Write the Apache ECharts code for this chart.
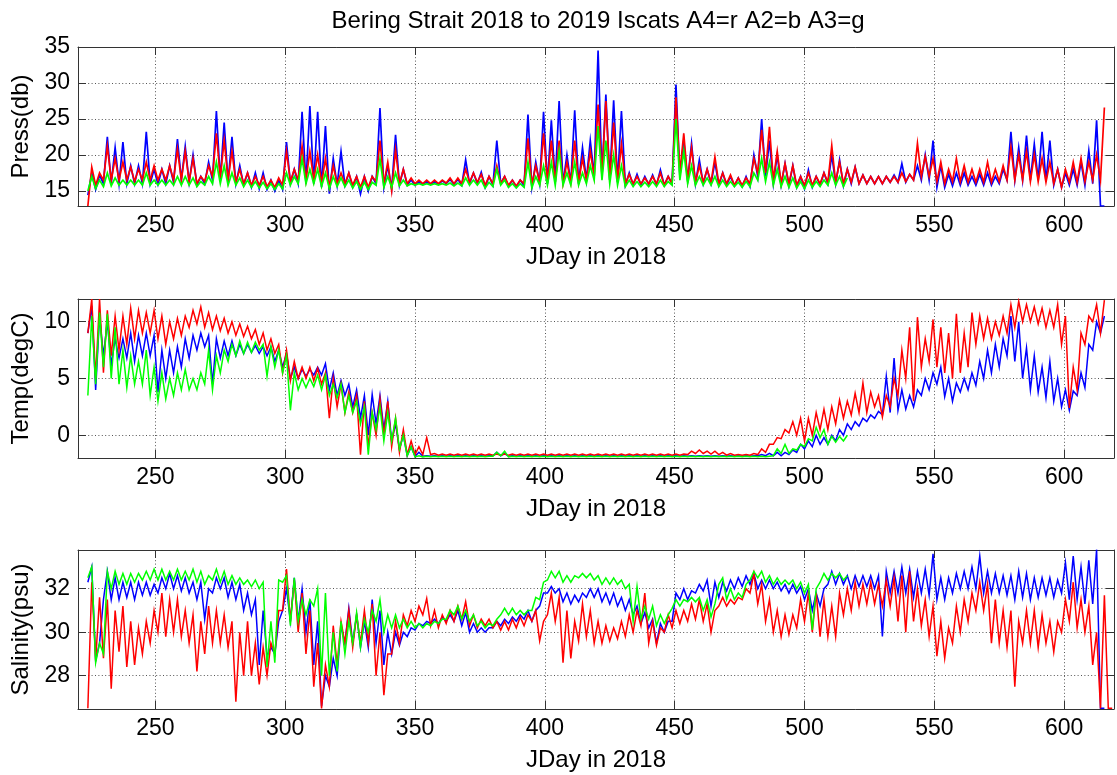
<!DOCTYPE html>
<html>
<head>
<meta charset="utf-8">
<title>Bering Strait 2018 to 2019 Iscats</title>
<script src="https://cdn.jsdelivr.net/npm/echarts@6/dist/echarts.min.js"></script>
<style>
    html, body { margin: 0; padding: 0; background: #fff; }
    #chart { width: 1117px; height: 775px; }
</style>
</head>
<body>
<div id="chart"></div>
<script>
// window start day (3 day windows), each window has a low and a high value
var days = [
    224, 227, 230, 233, 236, 239, 242, 245, 248, 251,
    254, 257, 260, 263, 266, 269, 272, 275, 278, 281,
    284, 287, 290, 293, 296, 299, 302, 305, 308, 311,
    314, 317, 320, 323, 326, 329, 332, 335, 338, 341,
    344, 347, 350, 353, 356, 359, 362, 365, 368, 371,
    374, 377, 380, 383, 386, 389, 392, 395, 398, 401,
    404, 407, 410, 413, 416, 419, 422, 425, 428, 431,
    434, 437, 440, 443, 446, 449, 452, 455, 458, 461,
    464, 467, 470, 473, 476, 479, 482, 485, 488, 491,
    494, 497, 500, 503, 506, 509, 512, 515, 518, 521,
    524, 527, 530, 533, 536, 539, 542, 545, 548, 551,
    554, 557, 560, 563, 566, 569, 572, 575, 578, 581,
    584, 587, 590, 593, 596, 599, 602, 605, 608, 611,
    614, 617
];

// ---- pressure (db) ----
var pressA2Lo = [
    14.4, 15.2, 16.0, 16.0, 16.0, 16.0, 16.0, 16.0, 16.0, 15.9,
    16.0, 16.2, 16.5, 16.2, 15.8, 16.0, 16.5, 16.5, 16.2, 16.0,
    15.8, 15.5, 15.3, 15.2, 15.0, 15.2, 16.0, 16.0, 16.0, 16.0,
    15.5, 14.6, 15.8, 15.8, 15.5, 14.6, 15.0, 16.0, 15.5, 15.3,
    15.8, 15.8, 15.8, 15.9, 15.9, 15.9, 16.0, 15.9, 15.8, 16.0,
    16.0, 15.5, 15.8, 16.0, 15.6, 15.5, 15.7, 15.5, 16.0, 16.0,
    16.2, 16.0, 16.0, 16.0, 16.5, 17.0, 17.0, 16.5, 16.2, 15.8,
    15.8, 15.8, 15.9, 15.8, 15.8, 16.0, 17.0, 16.5, 16.0, 16.0,
    16.0, 15.8, 15.8, 15.7, 15.6, 15.6, 17.0, 17.0, 16.0, 15.8,
    15.7, 15.5, 15.3, 15.5, 15.8, 16.0, 16.0, 15.7, 16.0, 16.0,
    16.0, 16.0, 16.0, 16.2, 16.2, 16.2, 16.5, 16.5, 16.5, 15.5,
    15.5, 15.7, 15.8, 15.8, 15.8, 15.8, 15.8, 16.0, 16.5, 16.5,
    16.5, 16.5, 16.5, 16.3, 15.8, 15.5, 15.8, 15.8, 15.8, 16.0,
    12.9
];
var pressA2Hi = [
    17.5, 17.2, 22.5, 21.0, 21.8, 18.5, 18.5, 23.2, 18.0, 18.0,
    18.5, 22.2, 21.2, 20.0, 17.0, 19.0, 26.1, 24.5, 22.5, 18.5,
    17.5, 17.5, 17.5, 16.5, 16.5, 21.8, 18.0, 26.0, 26.8, 26.0,
    24.0, 19.5, 20.5, 17.5, 17.0, 17.0, 17.0, 26.5, 18.5, 22.8,
    18.0, 16.5, 16.3, 16.3, 16.3, 16.4, 16.6, 16.6, 19.3, 17.5,
    17.6, 17.0, 22.0, 17.0, 16.5, 16.5, 25.6, 19.0, 26.0, 24.8,
    27.5, 20.0, 26.2, 21.0, 22.0, 34.5, 28.4, 27.6, 26.1, 17.5,
    17.3, 17.0, 17.2, 17.9, 17.0, 29.8, 22.0, 21.6, 19.3, 18.0,
    19.0, 17.5, 17.0, 16.8, 17.0, 20.0, 25.0, 22.0, 20.0, 18.8,
    18.5, 17.0, 17.9, 17.0, 17.5, 20.0, 19.3, 18.0, 18.3, 17.2,
    17.0, 17.0, 17.0, 17.2, 18.8, 17.3, 18.5, 20.0, 22.0, 18.5,
    17.3, 17.5, 17.5, 17.0, 17.3, 17.5, 17.0, 18.0, 23.2, 21.0,
    22.7, 21.5, 23.2, 22.0, 18.0, 17.5, 18.0, 19.0, 20.6, 24.8,
    12.9
];
var pressA4Lo = [
    12.9, 15.8, 16.5, 16.5, 16.5, 16.5, 16.3, 16.5, 16.5, 16.5,
    16.5, 16.5, 16.5, 16.3, 16.0, 16.3, 17.0, 16.8, 16.5, 16.2,
    16.0, 15.8, 15.8, 15.6, 15.5, 15.8, 16.3, 16.5, 16.5, 16.5,
    16.0, 15.5, 16.0, 16.0, 15.8, 15.5, 15.5, 16.3, 16.0, 15.0,
    16.0, 16.0, 16.0, 16.0, 16.0, 16.0, 16.1, 16.0, 16.0, 16.2,
    16.2, 15.8, 16.0, 16.0, 15.8, 15.7, 16.0, 15.8, 16.2, 16.2,
    16.2, 16.0, 16.2, 16.2, 16.5, 17.0, 17.0, 16.5, 16.3, 16.0,
    16.0, 16.0, 16.0, 16.0, 15.8, 16.0, 17.5, 16.5, 16.2, 16.2,
    16.2, 16.0, 16.0, 15.8, 15.8, 16.0, 17.5, 17.5, 16.5, 16.0,
    16.0, 15.8, 15.8, 15.8, 16.0, 16.2, 16.2, 16.0, 16.2, 16.0,
    16.0, 16.0, 16.0, 16.2, 16.2, 16.3, 16.5, 17.0, 17.0, 16.3,
    16.0, 16.3, 16.3, 16.2, 16.2, 16.2, 16.2, 16.3, 16.5, 16.5,
    16.5, 16.3, 16.3, 16.2, 16.0, 15.5, 16.2, 16.2, 16.3, 16.5,
    16.5
];
var pressA4Hi = [
    18.3, 17.5, 21.2, 19.5, 19.0, 18.3, 18.0, 19.0, 18.5, 18.0,
    18.5, 20.8, 20.5, 19.5, 17.0, 18.5, 23.0, 22.0, 20.5, 18.0,
    17.5, 17.0, 17.0, 16.5, 16.8, 20.5, 18.0, 21.2, 20.5, 20.0,
    19.5, 18.5, 17.5, 17.5, 17.0, 17.0, 17.0, 22.0, 19.0, 20.7,
    18.0, 16.8, 16.5, 16.5, 16.5, 16.5, 16.8, 16.8, 18.0, 17.5,
    17.3, 17.0, 18.5, 17.0, 16.5, 16.5, 22.3, 18.5, 23.0, 22.0,
    22.0, 19.0, 22.0, 19.5, 20.5, 27.0, 27.5, 24.5, 21.5, 17.3,
    17.0, 16.8, 17.0, 17.5, 17.0, 28.0, 23.0, 21.0, 18.5, 18.0,
    19.7, 17.5, 17.2, 16.8, 16.8, 19.5, 23.5, 23.9, 20.5, 18.8,
    18.5, 17.0, 17.5, 17.0, 17.5, 21.3, 19.0, 18.0, 18.3, 17.2,
    17.0, 17.0, 17.0, 17.0, 17.5, 17.3, 21.6, 19.8, 19.5, 19.0,
    18.0, 19.5, 18.5, 18.0, 18.0, 19.0, 18.0, 18.5, 21.1, 20.0,
    20.5, 20.0, 19.5, 19.0, 18.0, 18.0, 19.0, 19.5, 19.0, 20.0,
    26.6
];
var pressA3Lo = [
    15.0, 15.3, 15.6, 15.7, 15.8, 15.8, 15.8, 15.8, 15.8, 15.8,
    15.8, 15.8, 15.8, 15.8, 15.6, 15.8, 16.0, 16.0, 15.8, 15.8,
    15.6, 15.5, 15.4, 15.3, 15.2, 15.3, 15.8, 16.0, 16.0, 16.0,
    15.6, 15.3, 15.6, 15.6, 15.4, 15.2, 15.2, 15.8, 15.5, 15.5,
    15.7, 15.7, 15.8, 15.8, 15.8, 15.8, 15.8, 15.7, 15.7, 15.8,
    15.8, 15.4, 15.6, 15.8, 15.5, 15.4, 15.5, 15.4, 15.8, 15.8,
    15.8, 15.8, 15.8, 15.8, 16.0, 16.5, 16.5, 16.0, 15.8, 15.6,
    15.6, 15.6, 15.6, 15.6, 15.6, 15.8, 16.5, 16.0, 15.8, 15.8,
    15.8, 15.6, 15.6, 15.6, 15.5, 15.6, 16.5, 16.3, 15.8, 15.6,
    15.5, 15.4, 15.3, 15.5, 15.6, 15.8, 15.8, 15.6
];
var pressA3Hi = [
    17.0, 16.5, 17.5, 16.8, 16.5, 16.5, 16.5, 17.5, 16.5, 16.5,
    16.5, 17.0, 17.0, 16.8, 16.3, 17.0, 19.0, 18.5, 17.5, 16.8,
    16.5, 16.3, 16.2, 16.0, 16.0, 17.5, 17.0, 19.5, 18.0, 18.0,
    17.5, 17.0, 16.8, 16.5, 16.3, 16.2, 16.2, 19.5, 17.0, 17.5,
    16.5, 16.0, 16.0, 16.0, 16.0, 16.0, 16.1, 16.1, 16.8, 16.5,
    16.5, 16.2, 18.0, 16.5, 16.0, 16.0, 19.0, 17.0, 18.5, 19.0,
    20.5, 17.5, 19.0, 17.5, 18.5, 24.0, 22.0, 20.0, 18.5, 16.5,
    16.3, 16.2, 16.3, 16.5, 16.3, 25.0, 20.5, 18.5, 17.0, 16.8,
    17.0, 16.5, 16.3, 16.2, 16.3, 17.5, 19.5, 19.0, 18.0, 17.0,
    16.8, 16.3, 16.5, 16.3, 16.5, 17.5, 17.0, 16.8
];

// ---- temperature (degC) ----
var tempA2Lo = [
    9.0, 4.0, 7.0, 6.2, 6.8, 6.8, 6.5, 7.0, 7.0, 3.8,
    5.0, 5.5, 6.0, 6.8, 7.5, 7.8, 4.5, 6.8, 7.0, 7.0,
    7.2, 7.3, 7.2, 7.0, 6.5, 6.0, 5.0, 5.0, 5.2, 5.3,
    5.3, 4.0, 3.5, 3.5, 2.5, 1.5, 0.0, 1.0, 0.5, -0.5,
    -1.2, -1.8, -1.85, -1.85, -1.85, -1.85, -1.85, -1.85, -1.85, -1.85,
    -1.85, -1.85, -1.8, -1.8, -1.85, -1.85, -1.85, -1.85, -1.85, -1.85,
    -1.85, -1.85, -1.85, -1.85, -1.85, -1.85, -1.85, -1.85, -1.85, -1.85,
    -1.85, -1.85, -1.85, -1.85, -1.85, -1.85, -1.85, -1.85, -1.85, -1.85,
    -1.85, -1.85, -1.85, -1.85, -1.85, -1.85, -1.8, -1.8, -1.8, -1.8,
    -1.7, -1.5, -1.2, -1.0, -0.8, -0.8, -0.5, 0.0, 0.5, 0.8,
    1.2, 1.5, 1.8, 2.0, 2.2, 2.3, 2.5, 3.5, 4.0, 4.5,
    3.4, 3.0, 3.8, 4.0, 4.4, 5.0, 5.5, 6.0, 7.0, 6.5,
    5.0, 4.0, 3.8, 3.3, 3.0, 2.5, 2.2, 3.5, 4.2, 7.5,
    9.0
];
var tempA2Hi = [
    11.4, 10.5, 10.0, 8.5, 8.5, 9.0, 8.8, 9.0, 8.8, 7.5,
    7.5, 7.8, 8.5, 8.8, 9.0, 8.8, 8.5, 8.3, 8.3, 8.0,
    8.0, 7.9, 7.8, 7.8, 7.5, 7.2, 6.0, 5.8, 5.8, 6.0,
    6.3, 5.5, 4.8, 4.5, 4.0, 3.5, 3.6, 3.5, 3.0, 1.0,
    0.0, -1.0, -1.5, -1.8, -1.8, -1.8, -1.8, -1.8, -1.8, -1.8,
    -1.8, -1.8, -1.5, -1.6, -1.8, -1.8, -1.8, -1.8, -1.8, -1.8,
    -1.8, -1.8, -1.8, -1.8, -1.8, -1.8, -1.8, -1.8, -1.8, -1.8,
    -1.8, -1.8, -1.8, -1.8, -1.8, -1.8, -1.8, -1.8, -1.8, -1.8,
    -1.8, -1.8, -1.8, -1.8, -1.8, -1.8, -1.7, -1.6, -1.5, -1.5,
    -1.3, -0.8, -0.5, 0.0, -0.2, 0.0, 0.5, 1.0, 1.2, 1.5,
    1.8, 2.1, 5.2, 6.8, 4.0, 3.5, 4.0, 5.0, 5.5, 6.0,
    5.0, 4.6, 5.0, 5.5, 6.5, 7.5, 8.0, 8.5, 10.5, 10.0,
    7.7, 7.0, 6.0, 6.5, 5.0, 4.0, 3.9, 5.5, 8.0, 10.0,
    10.5
];
var tempA4Lo = [
    9.0, 5.0, 5.5, 7.0, 7.5, 8.0, 8.5, 9.0, 9.0, 8.5,
    8.0, 8.5, 8.8, 9.5, 9.8, 9.5, 9.3, 9.2, 9.0, 8.8,
    8.7, 8.5, 8.0, 7.5, 7.2, 5.5, 4.8, 5.0, 5.0, 4.8,
    4.5, 1.5, 2.5, 2.0, 2.0, -1.7, -1.0, 0.0, 0.0, -1.0,
    -1.5, -1.7, -1.7, -1.7, -1.7, -1.75, -1.75, -1.75, -1.75, -1.75,
    -1.75, -1.75, -1.75, -1.75, -1.75, -1.75, -1.75, -1.75, -1.75, -1.75,
    -1.75, -1.75, -1.75, -1.75, -1.75, -1.75, -1.75, -1.75, -1.75, -1.75,
    -1.75, -1.75, -1.75, -1.75, -1.75, -1.75, -1.75, -1.7, -1.6, -1.6,
    -1.65, -1.7, -1.75, -1.75, -1.75, -1.75, -1.7, -1.5, -0.8, -0.3,
    0.2, 0.0, -0.5, 0.0, 0.5, 0.5, 1.0, 1.5, 1.8, 2.0,
    2.0, 2.5, 1.6, 2.5, 3.5, 5.0, 3.0, 6.0, 6.5, 6.0,
    5.5, 5.0, 5.5, 6.0, 8.0, 8.5, 8.5, 8.8, 9.0, 9.5,
    10.0, 10.0, 9.8, 9.5, 9.5, 8.0, 2.4, 4.0, 8.0, 10.0,
    9.0
];
var tempA4Hi = [
    12.0, 12.0, 11.0, 10.5, 10.5, 11.2, 11.0, 10.8, 11.0, 10.5,
    10.0, 10.3, 10.5, 11.0, 11.3, 10.8, 10.5, 10.3, 10.0, 9.8,
    9.6, 9.3, 9.0, 8.5, 8.0, 7.5, 6.5, 6.0, 6.0, 5.9,
    5.5, 5.0, 4.5, 3.8, 3.5, 3.0, 2.0, 3.2, 3.0, 1.5,
    0.5, -0.5, -1.0, -0.2, -1.6, -1.65, -1.65, -1.65, -1.65, -1.65,
    -1.65, -1.65, -1.65, -1.65, -1.65, -1.65, -1.65, -1.65, -1.65, -1.65,
    -1.65, -1.65, -1.65, -1.65, -1.65, -1.65, -1.65, -1.65, -1.65, -1.65,
    -1.65, -1.65, -1.65, -1.65, -1.65, -1.65, -1.65, -1.4, -1.3, -1.4,
    -1.4, -1.5, -1.6, -1.7, -1.7, -1.6, -1.2, -0.8, -0.2, 0.5,
    1.2, 1.5, 1.5, 2.0, 2.3, 2.5, 3.1, 3.0, 3.7, 4.6,
    3.8, 3.5, 3.5, 5.0, 7.5, 9.5, 10.4, 8.5, 10.2, 9.5,
    9.0, 10.7, 9.0, 10.8, 10.5, 10.3, 10.0, 10.5, 11.5, 11.8,
    11.5, 11.3, 11.2, 11.0, 11.5, 10.5, 6.0, 9.0, 10.5, 11.5,
    11.9
];
var tempA3Lo = [
    3.5, 4.5, 6.0, 5.0, 4.5, 4.2, 4.5, 4.5, 3.5, 3.0,
    3.2, 3.5, 4.0, 4.0, 4.0, 4.5, 4.0, 5.5, 6.5, 7.0,
    7.2, 7.3, 7.5, 5.2, 6.0, 5.5, 2.2, 4.0, 4.2, 4.3,
    4.0, 3.5, 3.3, 2.0, 2.0, 1.0, -1.7, 0.5, -0.5, -0.5,
    -1.2, -1.8, -1.9, -1.9, -1.9, -1.9, -1.9, -1.9, -1.9, -1.9,
    -1.9, -1.9, -1.85, -1.8, -1.9, -1.9, -1.9, -1.9, -1.9, -1.9,
    -1.9, -1.9, -1.9, -1.9, -1.9, -1.9, -1.9, -1.9, -1.9, -1.9,
    -1.9, -1.9, -1.9, -1.9, -1.9, -1.9, -1.9, -1.9, -1.9, -1.9,
    -1.9, -1.9, -1.9, -1.9, -1.9, -1.9, -1.9, -1.9, -1.8, -1.6,
    -1.6, -1.3, -1.0, -0.5, -0.2, -0.8, -0.6, -0.5
];
var tempA3Hi = [
    10.5, 10.8, 10.7, 9.5, 7.5, 7.0, 6.5, 7.5, 6.0, 5.5,
    5.0, 5.5, 5.8, 5.0, 5.5, 7.5, 7.0, 7.5, 8.0, 8.3,
    8.2, 8.2, 8.0, 7.8, 7.5, 7.0, 5.5, 5.0, 5.0, 5.3,
    5.3, 4.5, 4.5, 3.5, 3.0, 2.5, 2.0, 2.5, 2.0, 1.5,
    0.0, -1.0, -1.8, -1.85, -1.85, -1.85, -1.85, -1.85, -1.85, -1.85,
    -1.85, -1.85, -1.5, -1.4, -1.85, -1.85, -1.85, -1.85, -1.85, -1.85,
    -1.85, -1.85, -1.85, -1.85, -1.85, -1.85, -1.85, -1.85, -1.85, -1.85,
    -1.85, -1.85, -1.85, -1.85, -1.85, -1.85, -1.85, -1.85, -1.85, -1.85,
    -1.85, -1.85, -1.85, -1.85, -1.85, -1.85, -1.85, -1.85, -1.2, -0.8,
    -1.2, -0.8, -0.3, 0.7, 0.5, -0.1, -0.1, 0.0
];

// ---- salinity (psu) ----
var salA2Lo = [
    32.3, 28.7, 31.5, 31.5, 31.5, 31.6, 31.5, 31.7, 31.7, 31.8,
    32.0, 32.0, 31.9, 31.8, 31.5, 30.6, 31.8, 32.0, 31.6, 31.5,
    31.0, 30.8, 28.5, 28.9, 29.0, 31.0, 30.5, 30.5, 30.0, 28.5,
    26.6, 27.5, 28.0, 29.5, 29.5, 29.3, 29.3, 29.5, 28.5, 29.0,
    29.4, 29.8, 30.1, 30.3, 30.4, 30.4, 30.5, 30.5, 30.3, 30.0,
    30.0, 30.0, 30.2, 30.3, 30.4, 30.5, 30.6, 30.5, 31.2, 31.8,
    31.8, 31.4, 31.3, 31.4, 31.6, 31.6, 31.4, 31.3, 31.2, 31.0,
    30.8, 30.4, 30.2, 29.5, 30.0, 30.5, 31.5, 31.5, 31.8, 31.9,
    31.2, 31.6, 31.9, 32.0, 32.1, 32.2, 32.0, 32.0, 32.0, 31.9,
    31.8, 31.8, 31.5, 31.0, 31.2, 32.2, 32.2, 32.2, 32.0, 32.1,
    32.1, 32.0, 29.8, 31.8, 31.8, 31.8, 31.6, 31.8, 31.7, 31.5,
    31.5, 31.8, 32.0, 32.0, 32.0, 31.8, 31.8, 31.8, 31.7, 31.5,
    31.6, 31.5, 31.6, 31.7, 31.6, 31.8, 31.5, 31.5, 31.3, 31.3,
    26.5
];
var salA2Hi = [
    33.0, 29.5, 32.8, 32.5, 32.3, 32.3, 32.3, 32.3, 32.2, 32.5,
    32.7, 32.6, 32.5, 32.3, 32.3, 32.0, 32.5, 32.5, 32.3, 32.2,
    31.8, 31.5, 31.0, 29.3, 30.5, 32.0, 32.5, 32.0, 31.5, 30.5,
    28.0, 28.8, 30.3, 31.1, 30.8, 30.5, 31.5, 31.0, 30.0, 30.0,
    30.0, 30.2, 30.4, 30.5, 30.6, 30.7, 30.8, 31.0, 30.9, 30.4,
    30.2, 30.2, 30.5, 30.6, 30.7, 30.8, 31.0, 31.0, 31.8, 32.1,
    32.0, 31.8, 31.7, 31.8, 32.0, 32.0, 31.8, 31.8, 31.6, 31.5,
    31.2, 30.9, 30.6, 30.4, 30.5, 31.8, 32.0, 31.9, 32.2, 32.4,
    32.3, 32.3, 32.4, 32.5, 32.6, 32.7, 32.4, 32.4, 32.3, 32.2,
    32.2, 32.1, 32.0, 31.8, 32.0, 32.8, 32.7, 32.6, 32.6, 32.6,
    32.6, 32.6, 32.8, 32.8, 33.0, 32.9, 32.8, 32.9, 33.6, 32.5,
    32.5, 32.7, 32.8, 33.0, 33.5, 32.8, 32.7, 32.6, 32.6, 32.8,
    32.7, 32.5, 32.5, 32.5, 32.4, 33.2, 33.5, 33.0, 33.3, 33.8,
    26.5
];
var salA4Lo = [
    26.5, 28.7, 28.8, 27.4, 29.1, 28.4, 28.5, 29.0, 29.5, 30.0,
    29.8, 30.0, 29.8, 29.5, 28.2, 29.0, 29.5, 29.5, 29.3, 26.8,
    28.0, 28.0, 27.6, 28.0, 29.0, 31.0, 30.5, 30.0, 29.0, 27.5,
    26.5, 27.5, 28.5, 29.5, 29.3, 29.5, 29.5, 28.0, 27.1, 29.0,
    29.5, 30.3, 30.5, 30.8, 30.3, 30.2, 30.4, 30.5, 30.6, 30.3,
    30.2, 30.3, 30.2, 30.1, 30.1, 30.2, 30.3, 30.5, 29.6, 30.8,
    30.5, 28.6, 28.8, 29.6, 29.8, 29.5, 29.5, 29.6, 29.7, 29.8,
    30.0, 30.3, 29.5, 29.4, 30.0, 30.2, 30.4, 30.5, 30.6, 30.5,
    30.0, 31.2, 31.2, 31.3, 31.5, 31.8, 31.3, 30.5, 30.0, 29.8,
    29.9, 30.2, 30.5, 30.0, 29.8, 29.8, 29.8, 30.8, 31.0, 31.2,
    31.3, 31.3, 31.2, 31.2, 30.5, 30.0, 30.5, 30.3, 29.8, 28.9,
    28.8, 29.5, 30.0, 30.5, 31.0, 31.0, 29.5, 29.5, 29.3, 27.5,
    29.5, 29.5, 29.3, 29.5, 29.1, 30.0, 30.5, 30.2, 30.0, 28.5,
    26.5, 26.5
];
var salA4Hi = [
    32.3, 31.6, 31.5, 31.0, 31.2, 30.5, 30.2, 30.5, 31.0, 31.8,
    31.5, 31.5, 31.0, 30.8, 30.5, 31.2, 31.0, 30.8, 30.5, 30.0,
    30.5, 29.5, 29.3, 29.5, 31.0, 32.9, 32.4, 31.8, 31.0, 29.5,
    28.5, 30.3, 30.5, 31.0, 30.8, 31.0, 31.3, 30.0, 29.0, 30.5,
    30.8, 31.0, 31.2, 31.55, 31.0, 30.8, 31.0, 31.2, 31.4, 30.8,
    30.6, 30.6, 30.5, 30.5, 30.6, 30.7, 30.8, 31.0, 30.5, 31.8,
    31.6, 31.0, 30.5, 31.3, 31.0, 30.5, 30.3, 30.2, 30.5, 30.8,
    31.0, 31.8, 30.5, 30.2, 30.8, 31.0, 31.0, 31.3, 31.5, 31.3,
    31.0, 31.6, 31.5, 31.6, 32.0, 32.7, 32.2, 31.5, 31.0, 30.8,
    30.8, 31.5, 31.8, 31.8, 31.5, 31.2, 31.8, 32.0, 32.3, 32.2,
    32.3, 32.2, 32.4, 32.5, 32.6, 32.8, 32.0, 31.5, 31.2, 30.5,
    30.2, 31.2, 31.5, 31.8, 32.3, 32.2, 31.5, 31.0, 31.0, 30.5,
    31.0, 31.0, 30.8, 30.5, 30.5, 31.5, 32.3, 31.5, 31.2, 30.0,
    31.7, 26.5
];
var salA3Lo = [
    32.5, 28.6, 29.0, 32.0, 32.2, 32.2, 32.3, 32.4, 32.4, 32.4,
    32.4, 32.4, 32.4, 32.4, 32.3, 32.2, 32.4, 32.3, 32.2, 32.2,
    32.2, 32.1, 32.0, 28.4, 28.6, 32.3, 30.3, 30.5, 30.8, 31.2,
    28.0, 28.0, 28.2, 29.0, 29.5, 29.3, 30.0, 30.5, 30.0, 30.2,
    30.2, 30.2, 30.2, 30.2, 30.3, 30.4, 30.6, 30.8, 30.6, 30.5,
    30.3, 30.2, 30.3, 30.8, 30.8, 30.8, 30.8, 31.0, 31.5, 32.4,
    32.5, 32.3, 32.3, 32.5, 32.5, 32.4, 32.2, 32.2, 32.2, 32.0,
    30.5, 30.6, 30.6, 30.3, 30.4, 31.1, 31.2, 31.4, 31.4, 31.0,
    30.7, 32.2, 31.5, 31.5, 31.6, 32.4, 32.5, 32.3, 32.2, 32.2,
    32.2, 32.0, 31.8, 30.1, 32.3, 32.4, 32.5, 32.4
];
var salA3Hi = [
    33.0, 29.5, 32.8, 32.8, 32.7, 32.7, 32.7, 32.8, 32.9, 32.9,
    32.8, 32.9, 32.8, 32.9, 32.8, 32.6, 32.9, 32.8, 32.6, 32.5,
    32.4, 32.4, 32.3, 30.5, 32.4, 32.6, 32.5, 31.5, 31.5, 32.0,
    31.8, 30.0, 30.5, 30.5, 30.9, 30.6, 31.0, 31.5, 30.8, 30.8,
    30.6, 30.5, 30.4, 30.4, 30.5, 30.6, 31.0, 31.2, 31.0, 30.8,
    30.5, 30.4, 30.6, 31.1, 31.1, 31.0, 31.0, 31.6, 32.3, 32.8,
    32.8, 32.6, 32.6, 32.7, 32.7, 32.6, 32.5, 32.5, 32.4, 32.2,
    32.1, 31.2, 31.2, 30.8, 30.8, 31.5, 31.5, 31.6, 31.6, 31.5,
    31.3, 32.5, 32.0, 31.8, 32.2, 32.8, 32.8, 32.6, 32.5, 32.4,
    32.4, 32.3, 32.2, 32.0, 32.7, 32.7, 32.7, 32.6
];

var dayMin = 220.2;
var dayMax = 619.2;
var FONT = "'Liberation Sans', Arial, Helvetica, sans-serif";
var C_R = '#ff0000', C_B = '#0000ff', C_G = '#00ff00';

// low value at window start, high value half a window later
function zig(lo, hi) {
    var out = [];
    for (var i = 0; i < lo.length; i++) {
        out.push([days[i], lo[i]]);
        out.push([days[i] + 1.5, hi[i]]);
    }
    return out;
}

function stepLabel(step) {
    return function (v) {
        return Math.abs(v / step - Math.round(v / step)) < 1e-6 ? String(v) : '';
    };
}

var panels = [
    { name: 'Press(db)', min: 12.9, max: 35, split: 5, step: 5, top: 47, width: 1.7,
      lines: [[pressA2Lo, pressA2Hi, C_B], [pressA4Lo, pressA4Hi, C_R], [pressA3Lo, pressA3Hi, C_G]] },
    { name: 'Temp(degC)', min: -2, max: 12, split: 3, step: 5, top: 299, width: 1.5,
      lines: [[tempA2Lo, tempA2Hi, C_B], [tempA4Lo, tempA4Hi, C_R], [tempA3Lo, tempA3Hi, C_G]] },
    { name: 'Salinity(psu)', min: 26.47, max: 33.78, split: 4, step: 2, top: 550, width: 1.5,
      lines: [[salA2Lo, salA2Hi, C_B], [salA4Lo, salA4Hi, C_R], [salA3Lo, salA3Hi, C_G]] }
];

var grid = [], xAxis = [], yAxis = [], series = [];
var frame = '#333';
var dotted = { show: true, lineStyle: { color: '#555', type: [1, 2.4], width: 1 } };

panels.forEach(function (p, i) {
    grid.push({ left: 78, top: p.top, width: 1040.5, height: 159 });

    xAxis.push({
        type: 'value', gridIndex: i, min: dayMin, max: dayMax, splitNumber: 8,
        position: 'bottom',
        name: 'JDay in 2018', nameLocation: 'middle', nameGap: 39,
        nameTextStyle: { fontFamily: FONT, fontSize: 24, color: '#000' },
        axisLine: { show: true, onZero: false, lineStyle: { color: frame, width: 1 } },
        axisTick: { show: true, inside: true, length: 8, lineStyle: { color: frame } },
        axisLabel: { margin: 8, fontFamily: FONT, fontSize: 23, color: '#000', formatter: stepLabel(50) },
        splitLine: dotted
    });
    // top edge of the box, ticks only
    xAxis.push({
        type: 'value', gridIndex: i, min: dayMin, max: dayMax, splitNumber: 8,
        position: 'top',
        axisLine: { show: true, onZero: false, lineStyle: { color: frame, width: 1 } },
        axisTick: { show: true, inside: true, length: 8, lineStyle: { color: frame } },
        axisLabel: { show: false },
        splitLine: { show: false }
    });

    yAxis.push({
        type: 'value', gridIndex: i, min: p.min, max: p.max, splitNumber: p.split,
        position: 'left',
        name: p.name, nameLocation: 'middle', nameGap: 45,
        nameTextStyle: { fontFamily: FONT, fontSize: 24, color: '#000' },
        axisLine: { show: true, onZero: false, lineStyle: { color: frame, width: 1 } },
        axisTick: { show: true, inside: true, length: 8, lineStyle: { color: frame } },
        axisLabel: { margin: 8, fontFamily: FONT, fontSize: 23, color: '#000', formatter: stepLabel(p.step) },
        splitLine: dotted
    });
    yAxis.push({
        type: 'value', gridIndex: i, min: p.min, max: p.max, splitNumber: p.split,
        position: 'right',
        axisLine: { show: true, onZero: false, lineStyle: { color: frame, width: 1 } },
        axisTick: { show: true, inside: true, length: 8, lineStyle: { color: frame } },
        axisLabel: { show: false },
        splitLine: { show: false }
    });

    p.lines.forEach(function (l) {
        series.push({
            type: 'line',
            xAxisIndex: i * 2,
            yAxisIndex: i * 2,
            data: zig(l[0], l[1]),
            showSymbol: false,
            symbol: 'none',
            clip: true,
            lineStyle: { color: l[2], width: p.width, join: 'miter' },
            itemStyle: { color: l[2] },
            silent: true
        });
    });
});

var myChart = echarts.init(document.getElementById('chart'), null, { renderer: 'canvas' });
myChart.setOption({
    backgroundColor: '#fff',
    animation: false,
    title: {
        text: 'Bering Strait 2018 to 2019 Iscats A4=r A2=b A3=g',
        left: 598, top: 9, padding: 0, textAlign: 'center',
        textStyle: { fontFamily: FONT, fontSize: 24, fontWeight: 'normal', color: '#000' }
    },
    grid: grid,
    xAxis: xAxis,
    yAxis: yAxis,
    series: series
});
</script>
</body>
</html>
